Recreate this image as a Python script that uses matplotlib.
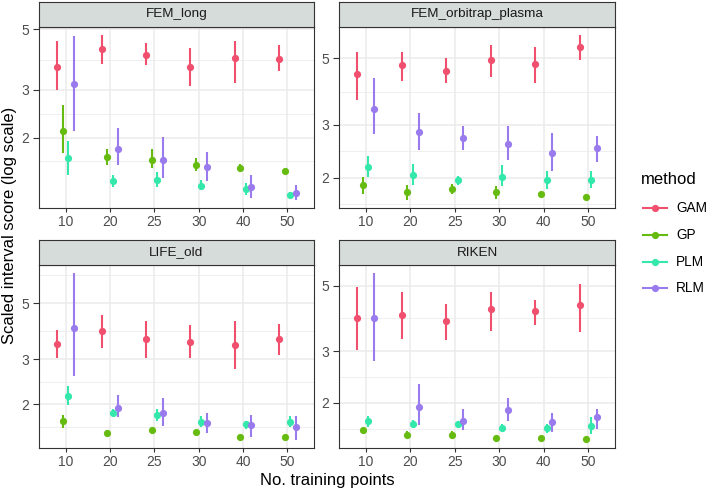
import numpy as np
import matplotlib
matplotlib.use("Agg")
import matplotlib.pyplot as plt
from matplotlib.lines import Line2D

plt.rcParams['font.family'] = ['Liberation Sans', 'DejaVu Sans']

# data (point estimate, lower, upper); rows = methods
n_points = ["10", "20", "25", "30", "40", "50"]
methods = ["GAM", "GP", "PLM", "RLM"]
colors = ["#F0506E", "#66BB11", "#33E8AA", "#9A7BEE"]
datasets = ["FEM_long", "FEM_orbitrap_plasma", "LIFE_old", "RIKEN"]

fem_long_mid = [[3.65, 4.22, 4.02, 3.64, 3.94, 3.90],
                [2.12, 1.69, 1.66, 1.59, 1.54, 1.50],
                [1.68, 1.38, 1.39, 1.33, 1.29, 1.23],
                [3.15, 1.82, 1.66, 1.56, 1.32, 1.25]]
fem_long_lo = [[3.00, 3.72, 3.70, 3.10, 3.17, 3.52],
               [1.75, 1.59, 1.55, 1.50, 1.49, 1.48],
               [1.46, 1.31, 1.31, 1.30, 1.23, 1.22],
               [2.12, 1.58, 1.42, 1.38, 1.20, 1.18]]
fem_long_hi = [[4.55, 4.76, 4.45, 4.26, 4.55, 4.38],
               [2.64, 1.81, 1.81, 1.68, 1.60, 1.52],
               [1.94, 1.455, 1.49, 1.39, 1.36, 1.24],
               [4.72, 2.17, 2.01, 1.77, 1.455, 1.34]]

orbi_mid = [[4.42, 4.74, 4.55, 4.95, 4.80, 5.47],
            [1.90, 1.80, 1.83, 1.80, 1.76, 1.73],
            [2.18, 2.04, 1.96, 2.02, 1.97, 1.97],
            [3.40, 2.84, 2.71, 2.60, 2.42, 2.51]]
orbi_lo = [[3.63, 4.19, 4.15, 4.35, 4.14, 4.95],
           [1.77, 1.69, 1.76, 1.70, 1.74, 1.71],
           [2.01, 1.90, 1.89, 1.88, 1.84, 1.85],
           [2.79, 2.47, 2.47, 2.29, 2.10, 2.26]]
orbi_hi = [[5.26, 5.24, 5.00, 5.55, 5.44, 5.97],
           [2.02, 1.90, 1.91, 1.88, 1.78, 1.75],
           [2.36, 2.22, 2.03, 2.20, 2.11, 2.11],
           [4.30, 3.30, 2.98, 2.97, 2.83, 2.76]]

life_mid = [[3.46, 3.89, 3.60, 3.53, 3.43, 3.61],
            [1.71, 1.54, 1.58, 1.56, 1.49, 1.48],
            [2.16, 1.85, 1.81, 1.70, 1.67, 1.70],
            [3.99, 1.94, 1.84, 1.68, 1.66, 1.62]]
life_lo = [[3.05, 3.34, 3.03, 3.04, 2.76, 3.12],
           [1.61, 1.49, 1.55, 1.53, 1.47, 1.46],
           [1.99, 1.79, 1.71, 1.62, 1.60, 1.63],
           [2.58, 1.78, 1.64, 1.54, 1.49, 1.45]]
life_hi = [[3.93, 4.49, 4.24, 4.11, 4.24, 4.15],
           [1.81, 1.58, 1.62, 1.59, 1.51, 1.50],
           [2.36, 1.91, 1.91, 1.79, 1.72, 1.79],
           [6.55, 2.18, 2.11, 1.84, 1.81, 1.79]]

riken_mid = [[3.87, 3.99, 3.79, 4.17, 4.09, 4.31],
             [1.62, 1.56, 1.55, 1.52, 1.52, 1.51],
             [1.73, 1.69, 1.69, 1.64, 1.64, 1.67],
             [3.88, 1.94, 1.74, 1.89, 1.72, 1.79]]
riken_lo = [[3.03, 3.29, 3.27, 3.50, 3.68, 3.47],
            [1.60, 1.52, 1.51, 1.50, 1.50, 1.50],
            [1.65, 1.64, 1.64, 1.59, 1.58, 1.57],
            [2.78, 1.68, 1.62, 1.74, 1.59, 1.63]]
riken_hi = [[4.97, 4.77, 4.33, 4.77, 4.48, 5.07],
            [1.64, 1.61, 1.60, 1.54, 1.54, 1.52],
            [1.81, 1.75, 1.73, 1.69, 1.70, 1.79],
            [5.51, 2.31, 1.90, 2.07, 1.85, 1.91]]

panel_data = {
    "FEM_long": (fem_long_mid, fem_long_lo, fem_long_hi),
    "FEM_orbitrap_plasma": (orbi_mid, orbi_lo, orbi_hi),
    "LIFE_old": (life_mid, life_lo, life_hi),
    "RIKEN": (riken_mid, riken_lo, riken_hi),
}
y_breaks = [2, 3, 5]

W, H = 709, 491
fig = plt.figure(figsize=(W / 100, H / 100), dpi=100)

# panel boxes in pixels: left, top, right, bottom
boxes = [(39, 27, 314, 208), (339, 27, 615, 208),
         (39, 265, 314, 448), (339, 265, 615, 448)]
strip_h = 25
dodge = 0.5

def px(l, t, r, b):
    return [l / W, 1 - b / H, (r - l) / W, (b - t) / H]

for name, box in zip(datasets, boxes):
    mid, lo, hi = [np.array(a) for a in panel_data[name]]
    ax = fig.add_axes(px(*box))
    ax.set_yscale("log")
    x = np.arange(len(n_points))

    # ggplot style limits: 5% expansion in log space
    lmin, lmax = np.log10(lo.min()), np.log10(hi.max())
    e = 0.05 * (lmax - lmin)
    ax.set_ylim(10 ** (lmin - e), 10 ** (lmax + e))
    ax.set_xlim(-0.6, len(n_points) - 0.4)

    # grid
    lb = np.log10(y_breaks)
    ext = np.concatenate([[lb[0] - (lb[1] - lb[0])], lb, [lb[-1] + (lb[-1] - lb[-2])]])
    minors = 10 ** ((ext[:-1] + ext[1:]) / 2)
    for m in minors:
        ax.axhline(m, color="#EBEBEB", lw=0.55, zorder=0)
    for b in y_breaks:
        ax.axhline(b, color="#EBEBEB", lw=1.1, zorder=0)
    for xi in x:
        ax.axvline(xi, color="#EBEBEB", lw=1.1, zorder=0)

    for i, (meth, col) in enumerate(zip(methods, colors)):
        off = (i - 1.5) * dodge / len(methods)
        ax.vlines(x + off, lo[i], hi[i], color=col, lw=1.5, zorder=2)
        ax.plot(x + off, mid[i], "o", color=col, ms=5.2, mec="none", zorder=3)

    ax.set_yticks(y_breaks)
    ax.set_yticklabels([str(b) for b in y_breaks])
    ax.yaxis.set_minor_locator(matplotlib.ticker.NullLocator())
    ax.set_xticks(x)
    ax.set_xticklabels(n_points)
    ax.tick_params(colors="#333333", labelcolor="#4D4D4D", labelsize=10, width=0.8)
    ax.tick_params(axis="x", length=3, pad=2)
    ax.tick_params(axis="y", length=4, pad=3)
    for s in ax.spines.values():
        s.set_color("#333333")
        s.set_linewidth(0.8)

    # facet strip
    l, t, r, b = box
    sax = fig.add_axes(px(l, t - strip_h, r, t))
    sax.set_facecolor("#D6DCDA")
    sax.set_xticks([])
    sax.set_yticks([])
    for s in sax.spines.values():
        s.set_color("#333333")
        s.set_linewidth(0.8)
    sax.text(0.5, 0.5, name, ha="center", va="center", fontsize=9.7,
             color="#1A1A1A", transform=sax.transAxes)

fig.text(327 / W, 1 - 480 / H, "No. training points", ha="center", va="center",
         fontsize=12, color="black")
fig.text(10 / W, 1 - 225 / H, "Scaled interval score (log scale)", ha="center",
         va="center", rotation=90, fontsize=12, color="black")

# legend
fig.text(641 / W, 1 - 180 / H, "method", ha="left", va="center", fontsize=12)
for k, (meth, col) in enumerate(zip(methods, colors)):
    yy = 1 - (208 + k * 26.8) / H
    fig.add_artist(Line2D([643 / W, 667 / W], [yy, yy], color=col, lw=1.5))
    fig.add_artist(Line2D([655 / W], [yy], marker="o", color=col, ms=5.2, mec="none"))
    fig.text(676 / W, yy, meth, ha="left", va="center", fontsize=9.8)

fig.savefig("out.png", dpi=100)
